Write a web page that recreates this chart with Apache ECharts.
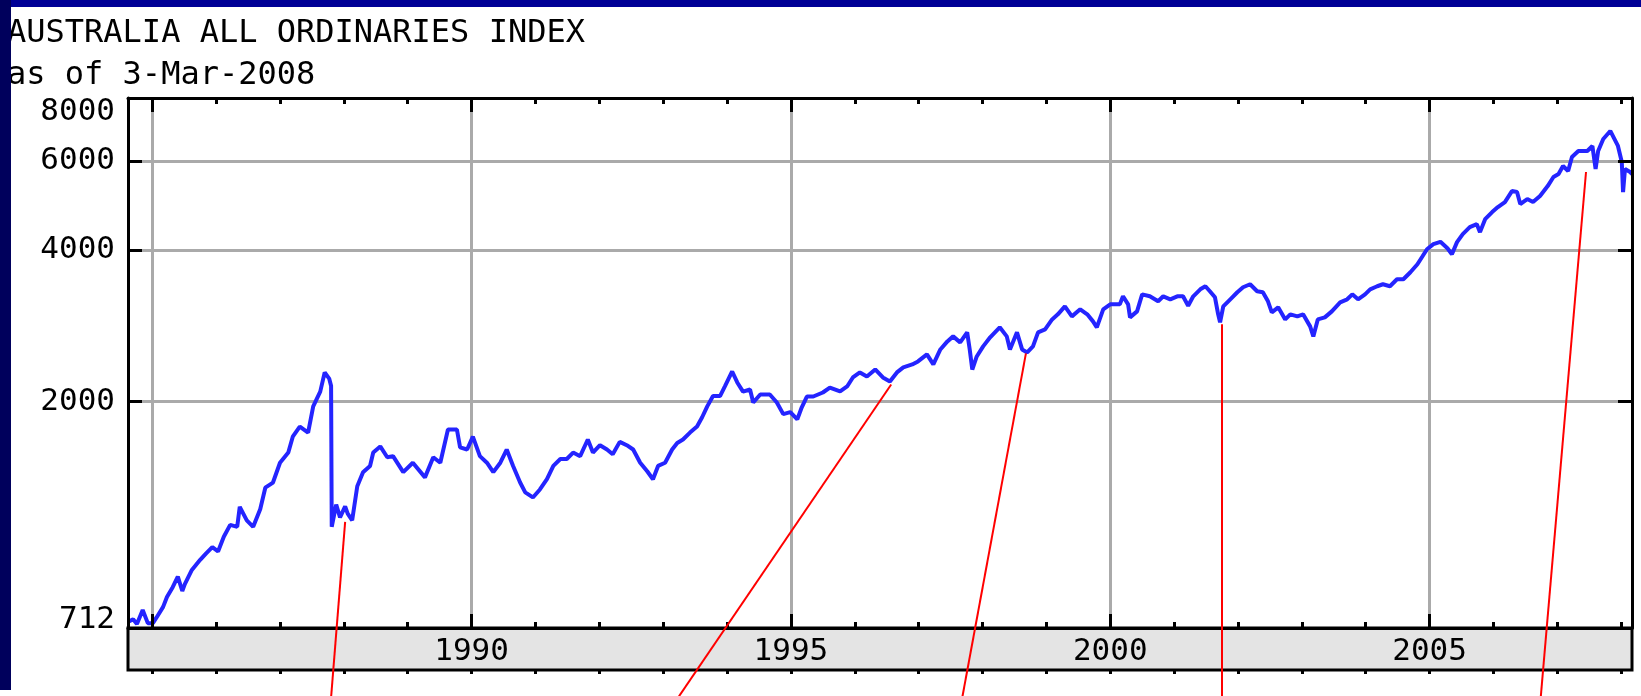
<!DOCTYPE html>
<html><head><meta charset="utf-8">
<script src="https://cdn.jsdelivr.net/npm/echarts@6/dist/echarts.min.js"></script>
<style>
html,body{margin:0;padding:0;background:#fff;overflow:hidden;}
#chart{position:absolute;left:0;top:0;width:1641px;height:696px;}
#bt{position:absolute;left:0;top:0;width:1641px;height:7px;background:#000096;z-index:5}
#bl{position:absolute;left:0;top:0;width:11px;height:690px;background:#00005c;z-index:6}
</style></head><body>
<div id="chart"></div><div id="bt"></div><div id="bl"></div>
<script>
// ---- data (decimal year, index value) ----
const indexPoints = [
[1984.62,732],[1984.70,741],[1984.76,725],[1984.85,773],[1984.93,728],[1985.01,728],[1985.07,748],[1985.17,784],
[1985.23,820],[1985.32,858],[1985.40,900],[1985.47,843],[1985.51,870],[1985.62,928],[1985.75,972],[1985.84,1000],
[1985.94,1030],[1986.03,1010],[1986.12,1080],[1986.22,1140],[1986.33,1130],[1986.37,1238],[1986.48,1164],[1986.58,1130],
[1986.69,1224],[1986.77,1351],[1986.89,1383],[1987.00,1514],[1987.13,1586],[1987.20,1705],[1987.31,1786],[1987.44,1737],
[1987.52,1958],[1987.63,2094],[1987.70,2287],[1987.77,2223],[1987.80,2150],[1987.81,1130],[1987.88,1250],[1987.94,1180],
[1988.02,1240],[1988.06,1200],[1988.13,1164],[1988.21,1360],[1988.30,1450],[1988.41,1492],[1988.46,1586],[1988.57,1631],
[1988.68,1552],[1988.77,1560],[1988.93,1450],[1989.08,1514],[1989.27,1416],[1989.40,1552],[1989.51,1514],[1989.63,1762],
[1989.77,1762],[1989.82,1624],[1989.93,1608],[1990.02,1705],[1990.13,1560],[1990.24,1514],[1990.34,1450],[1990.45,1514],
[1990.55,1608],[1990.65,1492],[1990.76,1383],[1990.84,1322],[1990.96,1292],[1991.07,1340],[1991.18,1404],[1991.28,1492],
[1991.39,1540],[1991.49,1540],[1991.59,1586],[1991.70,1560],[1991.82,1683],[1991.90,1586],[1992.01,1640],[1992.12,1608],
[1992.21,1573],[1992.32,1665],[1992.43,1640],[1992.53,1608],[1992.64,1514],[1992.75,1456],[1992.84,1404],[1992.92,1492],
[1993.03,1514],[1993.14,1608],[1993.22,1657],[1993.31,1683],[1993.42,1737],[1993.53,1786],[1993.61,1863],[1993.69,1958],
[1993.78,2052],[1993.89,2052],[1993.97,2150],[1994.08,2296],[1994.16,2184],[1994.25,2094],[1994.36,2115],[1994.41,1993],
[1994.52,2067],[1994.67,2067],[1994.78,1993],[1994.88,1890],[1994.99,1907],[1995.10,1845],[1995.17,1950],[1995.25,2048],
[1995.35,2048],[1995.50,2086],[1995.61,2134],[1995.77,2096],[1995.88,2144],[1995.97,2234],[1996.08,2286],[1996.19,2244],
[1996.32,2317],[1996.44,2234],[1996.55,2194],[1996.66,2286],[1996.76,2339],[1996.90,2371],[1996.99,2404],[1997.13,2482],
[1997.23,2371],[1997.34,2539],[1997.45,2634],[1997.54,2695],[1997.65,2622],[1997.76,2745],[1997.80,2539],[1997.84,2317],
[1997.91,2459],[1998.01,2575],[1998.12,2683],[1998.27,2809],[1998.38,2695],[1998.43,2539],[1998.54,2745],[1998.62,2539],
[1998.70,2505],[1998.79,2575],[1998.87,2745],[1998.98,2783],[1999.09,2912],[1999.18,2980],[1999.29,3091],[1999.40,2953],
[1999.53,3049],[1999.64,2980],[1999.73,2886],[1999.79,2809],[1999.89,3049],[2000.00,3119],[2000.15,3119],[2000.20,3236],
[2000.28,3119],[2000.31,2939],[2000.42,3021],[2000.50,3265],[2000.62,3236],[2000.75,3163],[2000.83,3236],[2000.94,3192],
[2001.05,3236],[2001.14,3236],[2001.22,3100],[2001.30,3236],[2001.41,3341],[2001.49,3388],[2001.56,3311],[2001.64,3221],
[2001.69,2980],[2001.72,2873],[2001.77,3091],[2001.88,3192],[2001.99,3296],[2002.08,3372],[2002.19,3419],[2002.30,3311],
[2002.39,3296],[2002.47,3163],[2002.53,3007],[2002.63,3077],[2002.74,2912],[2002.82,2980],[2002.93,2953],[2003.02,2980],
[2003.13,2821],[2003.18,2695],[2003.25,2912],[2003.36,2939],[2003.47,3021],[2003.60,3148],[2003.71,3192],[2003.79,3265],
[2003.88,3192],[2003.99,3265],[2004.07,3341],[2004.18,3388],[2004.27,3419],[2004.38,3388],[2004.49,3498],[2004.59,3498],
[2004.70,3612],[2004.81,3746],[2004.89,3885],[2004.96,4012],[2005.06,4105],[2005.17,4150],[2005.28,4030],[2005.35,3922],
[2005.43,4144],[2005.52,4298],[2005.63,4437],[2005.74,4498],[2005.79,4337],[2005.87,4602],[2005.98,4752],[2006.07,4862],
[2006.18,4975],[2006.29,5231],[2006.37,5207],[2006.42,4929],[2006.53,5043],[2006.62,4975],[2006.73,5113],[2006.85,5352],
[2006.94,5577],[2007.02,5654],[2007.09,5865],[2007.17,5732],[2007.23,6111],[2007.33,6281],[2007.47,6281],[2007.55,6427],
[2007.60,5785],[2007.64,6281],[2007.72,6636],[2007.83,6883],[2007.91,6576],[2007.95,6427],[2008.01,5973],[2008.03,5207],
[2008.06,5785],[2008.14,5706],[2008.17,5650]
];
// annotation pointer lines: from a point on the chart down past the bottom edge
const noteFrom = [[1988.02,1156],[1996.57,2164],[1998.68,2494],[2001.75,2847],[2007.45,5706]];
const noteTo   = [[1987.79,500],[1993.15,500],[1997.66,500],[2001.75,500],[2006.73,500]];
// ticks / labels
const yTicks = [712, 2000, 4000, 6000, 8000];
const xMajorYears = [1985, 1990, 1995, 2000, 2005];
const xLabelYears = [1990, 1995, 2000, 2005];
const xMinorYears = [1985,1986,1987,1988,1989,1990,1991,1992,1993,1994,1995,1996,1997,1998,1999,2000,2001,2002,2003,2004,2005,2006,2007,2008];
const xRange = [1984.62, 2008.17];
const yRange = [712, 8000];
const titleLines = ['AUSTRALIA ALL ORDINARIES INDEX', 'as of 3-Mar-2008'];

const FONT = 'DejaVu Sans Mono';
const GRID_C = '#aaaaaa';

function xAx(o){
  return Object.assign({type:'value', gridIndex:0, min:xRange[0], max:xRange[1], z:3,
    axisLine:{show:false}, axisTick:{show:false}, axisLabel:{show:false}, splitLine:{show:false}, splitArea:{show:false}, axisPointer:{show:false}}, o);
}
function yAx(o){
  return Object.assign({type:'log', logBase:10, gridIndex:0, min:yRange[0], max:yRange[1], z:3,
    axisLine:{show:false}, axisTick:{show:false}, axisLabel:{show:false}, splitLine:{show:false}, minorTick:{show:false}, minorSplitLine:{show:false}}, o);
}
const blackLine = {show:true, onZero:false, lineStyle:{color:'#000', width:3}};

const chart = echarts.init(document.getElementById('chart'), null, {renderer:'canvas'});
chart.setOption({
  animation:false,
  backgroundColor:'#ffffff',
  title: titleLines.map((t,i)=>({text:t, left:7, top: i===0?18:60, padding:0,
    textStyle:{fontFamily:FONT, fontSize:32, fontWeight:'normal', color:'#000', lineHeight:32}})),
  grid:[
    {left:128, right:9, top:98, bottom:68, show:false},
    {left:128, right:9, top:628, bottom:26, show:true, backgroundColor:'#e4e4e4', borderColor:'#000', borderWidth:3, z:0}
  ],
  xAxis:[
    xAx({position:'bottom', z:1,
      axisTick:{show:false, customValues:xMajorYears},
      splitLine:{show:true, lineStyle:{color:GRID_C, width:3}},
      axisLabel:{show:true, customValues:xLabelYears, margin:24, verticalAlign:'middle', fontFamily:FONT, fontSize:31, color:'#000',
        formatter:v=>String(Math.round(v))}}),
    xAx({position:'bottom', axisLine:blackLine, axisTick:{show:true, inside:true, length:6, customValues:xMinorYears, lineStyle:{color:'#000', width:3}}}),
    xAx({position:'bottom', axisTick:{show:true, inside:true, length:14, customValues:xMajorYears, lineStyle:{color:'#000', width:3}}}),
    xAx({position:'top', axisLine:blackLine, axisTick:{show:true, inside:true, length:6, customValues:xMinorYears, lineStyle:{color:'#000', width:3}}}),
    xAx({position:'top', axisTick:{show:true, inside:true, length:14, customValues:xMajorYears, lineStyle:{color:'#000', width:3}}}),
    xAx({gridIndex:1, position:'bottom', axisTick:{show:true, inside:false, length:4, customValues:xMinorYears, lineStyle:{color:'#000', width:3}}})
  ],
  yAxis:[
    yAx({position:'left', z:1,
      axisTick:{show:false, customValues:yTicks},
      splitLine:{show:true, lineStyle:{color:GRID_C, width:3}},
      axisLabel:{show:true, customValues:yTicks, margin:13, fontFamily:FONT, fontSize:31, color:'#000',
        formatter:v=>{const r=Math.round(v); return r===8000?'{hi|8000}':(r===712?'{lo|712}':String(r));},
        rich:{hi:{fontFamily:FONT, fontSize:31, color:'#000', padding:[28,0,0,0]}, lo:{fontFamily:FONT, fontSize:31, color:'#000', padding:[0,0,16,0]}}}}),
    yAx({position:'left', axisLine:blackLine, axisTick:{show:true, inside:true, length:14, customValues:yTicks, lineStyle:{color:'#000', width:3}}}),
    yAx({position:'right', axisLine:blackLine, axisTick:{show:true, inside:true, length:14, customValues:yTicks, lineStyle:{color:'#000', width:3}}}),
    {type:'value', gridIndex:1, show:false, min:0, max:1}
  ],
  series:[
    {type:'line', xAxisIndex:0, yAxisIndex:0, z:2, symbol:'none', showSymbol:false,
     lineStyle:{color:'#2424ff', width:4, join:'bevel'}, data:indexPoints},
    {type:'lines', coordinateSystem:'cartesian2d', xAxisIndex:0, yAxisIndex:0, z:5, clip:false, silent:true,
     lineStyle:{color:'#ff0000', width:2, opacity:1},
     data:noteFrom.map((f,i)=>({coords:[f, noteTo[i]]}))}
  ]
});
</script></body></html>
